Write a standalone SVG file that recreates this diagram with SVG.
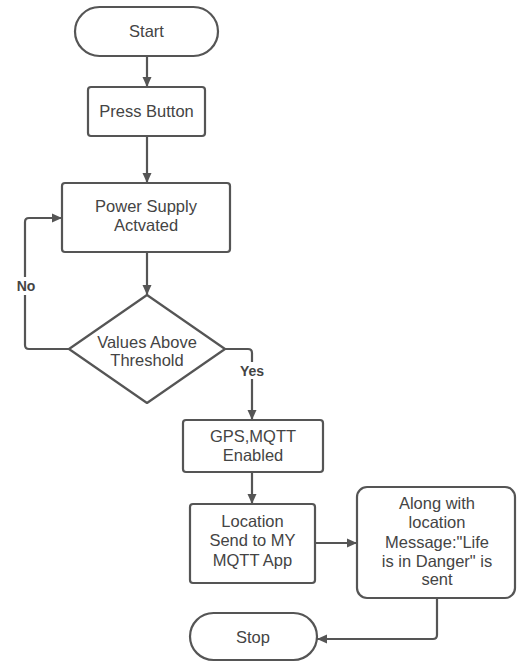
<svg xmlns="http://www.w3.org/2000/svg" width="517" height="662" viewBox="0 0 517 662">
<defs>
<marker id="arr" viewBox="0 0 10 10" refX="10" refY="5" markerWidth="10" markerHeight="10" markerUnits="userSpaceOnUse" orient="auto">
<path d="M0,0.5 L10,5 L0,9.5 z" fill="#555"/>
</marker>
<style>
.n{fill:#fff;stroke:#555;stroke-width:2.2}
.t{font-family:"Liberation Sans",Arial,sans-serif;font-size:16.5px;fill:#444;text-anchor:middle}
.l{font-family:"Liberation Sans",Arial,sans-serif;font-size:14px;font-weight:bold;fill:#444;text-anchor:middle}
.c{fill:none;stroke:#555;stroke-width:2.2;marker-end:url(#arr)}
.c2{fill:none;stroke:#555;stroke-width:2.2}
</style>
</defs>
<rect width="517" height="662" fill="#fff"/>
<g id="connectors">
<path class="c" d="M147,56 V87"/>
<path class="c" d="M147,136 V183"/>
<path class="c" d="M147,252 V295"/>
<path class="c" d="M69,349 H29 Q25,349 25,345 V222 Q25,218 29,218 H62"/>
<path class="c" d="M225,349 H248 Q252,349 252,353 V420"/>
<path class="c" d="M252,472 V504"/>
<path class="c" d="M315,543 H357"/>
<path class="c" d="M437,598 V635 Q437,639 433,639 H317"/>
<rect x="12" y="277" width="28" height="18" fill="#fff"/>
<text class="l" x="26" y="291">No</text>
<rect x="237" y="362" width="30" height="17" fill="#fff"/>
<text class="l" x="252" y="376">Yes</text>
</g>
<g id="start">
<rect class="n" x="75" y="7" width="143" height="49" rx="24.5"/>
<text class="t" x="146.5" y="37">Start</text>
</g>
<g id="press">
<rect class="n" x="88" y="87" width="117" height="49" rx="3"/>
<text class="t" x="146.5" y="117">Press Button</text>
</g>
<g id="power">
<rect class="n" x="62" y="183" width="168" height="69" rx="3"/>
<text class="t" x="146" y="212">Power Supply</text>
<text class="t" x="146" y="231">Actvated</text>
</g>
<g id="decision">
<path class="n" d="M147,295 L225,349 L147,403 L69,349 Z" stroke-linejoin="round"/>
<text class="t" x="147" y="348">Values Above</text>
<text class="t" x="147" y="366">Threshold</text>
</g>
<g id="gps">
<rect class="n" x="183" y="420" width="140" height="52" rx="3"/>
<text class="t" x="253" y="442">GPS,MQTT</text>
<text class="t" x="253" y="461">Enabled</text>
</g>
<g id="location">
<rect class="n" x="190" y="504" width="125" height="79" rx="3"/>
<text class="t" x="252.5" y="527">Location</text>
<text class="t" x="252.5" y="546">Send to MY</text>
<text class="t" x="252.5" y="566">MQTT App</text>
</g>
<g id="message">
<rect class="n" x="357" y="487" width="158" height="111" rx="10"/>
<text class="t" x="437" y="509">Along with</text>
<text class="t" x="437" y="528">location</text>
<text class="t" x="437" y="548">Message:"Life</text>
<text class="t" x="437" y="567">is in Danger" is</text>
<text class="t" x="437" y="585">sent</text>
</g>
<g id="stop">
<rect class="n" x="190" y="613" width="127" height="47" rx="23.5"/>
<text class="t" x="253" y="643">Stop</text>
</g>
</svg>
